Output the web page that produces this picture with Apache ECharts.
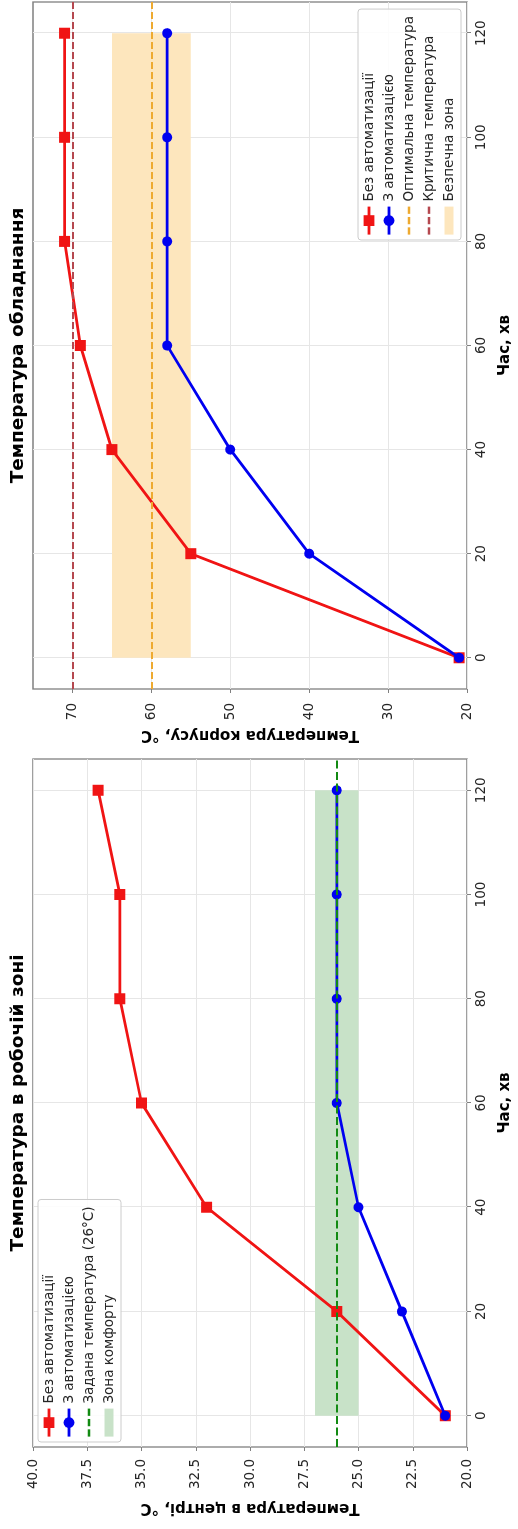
<!DOCTYPE html>
<html><head><meta charset="utf-8">
<script src="https://cdn.jsdelivr.net/npm/echarts@6/dist/echarts.min.js"></script>
<style>
html,body{margin:0;padding:0;background:#fff;overflow:hidden;width:518px;height:1529px;}
#wrap{position:absolute;left:0;top:0;width:1529px;height:518px;transform-origin:0 0;transform:translateY(1529px) rotate(-90deg);}
#chart{width:1529px;height:518px;background:#fff;}
</style></head><body>
<div id="wrap"><div id="chart"></div></div>
<script>
// ---- data ----
const time = [0, 20, 40, 60, 80, 100, 120];
const timeTicks = [0, 20, 40, 60, 80, 100, 120];

const workNoAuto = [21, 26, 32, 35, 36, 36, 37];
const workAuto = [21, 23, 25, 26, 26, 26, 26];
const workSetTemp = 26;
const workComfort = [25, 27];

const equipNoAuto = [21, 55, 65, 69, 71, 71, 71];
const equipAuto = [21, 40, 50, 58, 58, 58, 58];
const equipOptimal = 60;
const equipCritical = 70;
const equipSafe = [55, 65];
const equipTicks = [20, 30, 40, 50, 60, 70];

const titles = ['Температура в робочій зоні', 'Температура обладнання'];
const yNames = ['Температура в центрі, °C', 'Температура корпусу, °C'];
const xName = 'Час, хв';
const nameNoAuto = 'Без автоматизації';
const nameAuto = 'З автоматизацією';
const nameSet = 'Задана температура (26°C)';
const nameComfort = 'Зона комфорту';
const nameOptimal = 'Оптимальна температура';
const nameCritical = 'Критична температура';
const nameSafe = 'Безпечна зона';

// ---- styles ----
const FONT = 'DejaVu Sans';
const RED = '#f01414', BLUE = '#0000f0', GREEN = '#128a12';
const ORANGE = '#eeaa30', CRIT = '#b5484f';
const SAFE = '#fde6bd', COMFORT = '#c8e2c8';
const FRAME = '#808080', GRIDLINE = '#e6e6e6', TXT = '#262626';
const DASH_ICON = 'path://M0,0h7v2.2h-7z M10,0h7v2.2h-7z M20,0h7v2.2h-7z';
const RECT_ICON = 'path://M0,0h28v9h-28z';

const zip = (a, b) => a.map((v, i) => [v, b[i]]);

const grids = [
  {left: 82, top: 33, width: 688, height: 435},
  {left: 840, top: 33, width: 687, height: 435}
];

function xAxis(i) {
  return {
    type: 'value', gridIndex: i, min: -6, max: 126,
    name: xName, nameLocation: 'middle', nameGap: 31,
    nameTextStyle: {fontFamily: FONT, fontSize: 15, fontWeight: 'bold', color: '#000'},
    axisLine: {show: false, onZero: false},
    axisTick: {show: true, customValues: timeTicks, length: 4, lineStyle: {color: FRAME, width: 1}},
    axisLabel: {customValues: timeTicks, margin: 7, fontFamily: FONT, fontSize: 13.5, color: TXT},
    splitLine: {show: true, lineStyle: {color: GRIDLINE, width: 1}}
  };
}

const yAxes = [
  {
    type: 'value', gridIndex: 0, min: 20, max: 40, interval: 2.5,
    name: yNames[0], nameLocation: 'middle', nameGap: 53, nameRotate: 90,
    nameTextStyle: {fontFamily: FONT, fontSize: 15, fontWeight: 'bold', color: '#000'},
    axisLine: {show: false, onZero: false},
    axisTick: {show: true, length: 4, lineStyle: {color: FRAME, width: 1}},
    axisLabel: {margin: 12, fontFamily: FONT, fontSize: 13.5, color: TXT, formatter: v => v.toFixed(1)},
    splitLine: {show: true, lineStyle: {color: GRIDLINE, width: 1}}
  },
  {
    type: 'value', gridIndex: 1, min: 20, max: 75, interval: 10,
    name: yNames[1], nameLocation: 'middle', nameGap: 38, nameRotate: 90,
    nameTextStyle: {fontFamily: FONT, fontSize: 15, fontWeight: 'bold', color: '#000'},
    axisLine: {show: false, onZero: false},
    axisTick: {show: true, customValues: equipTicks, length: 4, lineStyle: {color: FRAME, width: 1}},
    axisLabel: {customValues: equipTicks, margin: 14, fontFamily: FONT, fontSize: 13.5, color: TXT},
    splitLine: {show: true, lineStyle: {color: GRIDLINE, width: 1}}
  }
];

function dataLine(name, gi, ys, color, symbol, size, z) {
  return {
    type: 'line', name, xAxisIndex: gi, yAxisIndex: gi, data: zip(time, ys),
    color, symbol, symbolSize: size, z,
    lineStyle: {color, width: 2.8},
    itemStyle: {color},
    emphasis: {disabled: true}
  };
}
function hLine(name, gi, value, color, dash, z) {
  return {
    type: 'line', name, xAxisIndex: gi, yAxisIndex: gi, data: [], color, z,
    symbol: 'none', lineStyle: {color, width: 2, type: dash}, itemStyle: {color},
    markLine: {silent: true, symbol: ['none', 'none'], label: {show: false},
      lineStyle: {color, width: 2, type: dash}, emphasis: {disabled: true},
      data: [{yAxis: value}]}
  };
}
function zone(name, gi, range, color) {
  return {
    type: 'line', name, xAxisIndex: gi, yAxisIndex: gi, data: [], color, z: 1,
    symbol: 'none', itemStyle: {color},
    markArea: {silent: true, itemStyle: {color, opacity: 1}, emphasis: {disabled: true},
      data: [[{xAxis: time[0], yAxis: range[0]}, {xAxis: time[time.length - 1], yAxis: range[1]}]]}
  };
}

const legendBase = {
  orient: 'vertical', itemWidth: 28, itemHeight: 13.5, itemGap: 6,
  padding: [4, 7, 5, 4], backgroundColor: 'rgba(255,255,255,0.85)',
  borderColor: '#cccccc', borderWidth: 1, borderRadius: 3, selectedMode: false,
  lineStyle: {width: 2.8},
  textStyle: {fontFamily: FONT, fontSize: 13.5, color: TXT, lineHeight: 14}
};

const option = {
  animation: false,
  backgroundColor: '#fff',
  grid: grids.map(g => Object.assign({show: true, borderColor: FRAME, borderWidth: 1.3, backgroundColor: 'transparent'}, g)),
  xAxis: [xAxis(0), xAxis(1)],
  yAxis: yAxes,
  graphic: titles.map((t, i) => ({
    type: 'text', x: grids[i].left + grids[i].width / 2, y: 18, silent: true,
    style: {text: t, align: 'center', verticalAlign: 'middle', textAlign: 'center', textVerticalAlign: 'middle',
      fontFamily: FONT, fontSize: 18.5, fontWeight: 'bold', fill: '#000'}
  })),
  legend: [
    Object.assign({}, legendBase, {left: 87, top: 38, data: [
      {name: nameNoAuto}, {name: nameAuto},
      {name: nameSet, icon: DASH_ICON}, {name: nameComfort, icon: RECT_ICON}]}),
    Object.assign({}, legendBase, {left: 1289, top: 358, data: [
      {name: nameNoAuto}, {name: nameAuto},
      {name: nameOptimal, icon: DASH_ICON}, {name: nameCritical, icon: DASH_ICON}, {name: nameSafe, icon: RECT_ICON}]})
  ],
  series: [
    zone(nameComfort, 0, workComfort, COMFORT),
    dataLine(nameNoAuto, 0, workNoAuto, RED, 'rect', 11, 2),
    dataLine(nameAuto, 0, workAuto, BLUE, 'circle', 10, 3),
    hLine(nameSet, 0, workSetTemp, GREEN, [8, 3.5], 4),
    zone(nameSafe, 1, equipSafe, SAFE),
    dataLine(nameNoAuto, 1, equipNoAuto, RED, 'rect', 11, 2),
    dataLine(nameAuto, 1, equipAuto, BLUE, 'circle', 10, 3),
    hLine(nameOptimal, 1, equipOptimal, ORANGE, [7, 3], 4),
    hLine(nameCritical, 1, equipCritical, CRIT, [7, 3], 4)
  ]
};
const chart = echarts.init(document.getElementById('chart'));
chart.setOption(option);
</script>
</body></html>
